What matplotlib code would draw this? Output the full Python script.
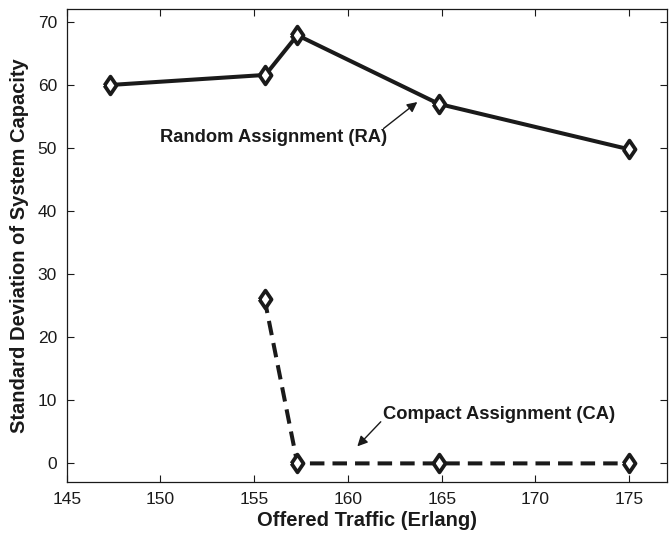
import matplotlib
matplotlib.use("Agg")
import matplotlib.pyplot as plt

plt.rcParams['font.family'] = ['Liberation Sans', 'DejaVu Sans']

# Offered traffic (Erlang) and standard deviation of system capacity
traffic_ra = [147.3, 155.6, 157.3, 164.85, 175.0]
std_ra = [60.0, 61.6, 67.9, 57.0, 49.8]

traffic_ca = [155.55, 157.3, 164.85, 175.0]
std_ca = [26.1, 0.0, 0.0, 0.0]

xticks = [145, 150, 155, 160, 165, 170, 175]
yticks = [0, 10, 20, 30, 40, 50, 60, 70]

# diamond a bit wider than matplotlib's thin one
diamond = [(-0.68, 0), (0, 1), (0.68, 0), (0, -1), (-0.68, 0)]
ink = '#1a1a1a'

fig = plt.figure(figsize=(6.71, 5.33), dpi=100)
ax = fig.add_axes([0.0994, 0.0951, 0.8942, 0.8874])

ax.plot(traffic_ra, std_ra, color=ink, linestyle='-', linewidth=2.9,
        marker=diamond, markersize=12.8, markerfacecolor='white',
        markeredgecolor=ink, markeredgewidth=2.7)
ax.plot(traffic_ca, std_ca, color=ink, linestyle=(0, (3.6, 2.0)), linewidth=2.9,
        marker=diamond, markersize=12.8, markerfacecolor='white',
        markeredgecolor=ink, markeredgewidth=2.7)

# labels with arrows
ax.annotate('', xy=(163.7, 57.3), xytext=(161.9, 53.1),
            arrowprops=dict(arrowstyle='-|>', color=ink, lw=1.0,
                            mutation_scale=15, shrinkA=0, shrinkB=0))
ax.text(156.05, 51.6, 'Random Assignment (RA)', ha='center', va='center',
        fontsize=13.2, fontweight='bold', color=ink)

ax.annotate('', xy=(160.5, 2.7), xytext=(161.75, 6.6),
            arrowprops=dict(arrowstyle='-|>', color=ink, lw=1.0,
                            mutation_scale=15, shrinkA=0, shrinkB=0))
ax.text(168.05, 7.8, 'Compact Assignment (CA)', ha='center', va='center',
        fontsize=13.2, fontweight='bold', color=ink)

ax.set_xlim(145, 177)
ax.set_ylim(-3, 72)
ax.set_xticks(xticks)
ax.set_yticks(yticks)
ax.tick_params(direction='in', top=True, right=True, length=5, width=0.8,
               labelsize=12.5, colors=ink, pad=7)
for s in ax.spines.values():
    s.set_linewidth(0.9)
    s.set_color(ink)

ax.set_xlabel('Offered Traffic (Erlang)', fontsize=14.5, fontweight='bold',
              color=ink, labelpad=3)
ax.set_ylabel('Standard Deviation of System Capacity', fontsize=14.5,
              fontweight='bold', color=ink, labelpad=6)

fig.savefig('out.png', dpi=100)
